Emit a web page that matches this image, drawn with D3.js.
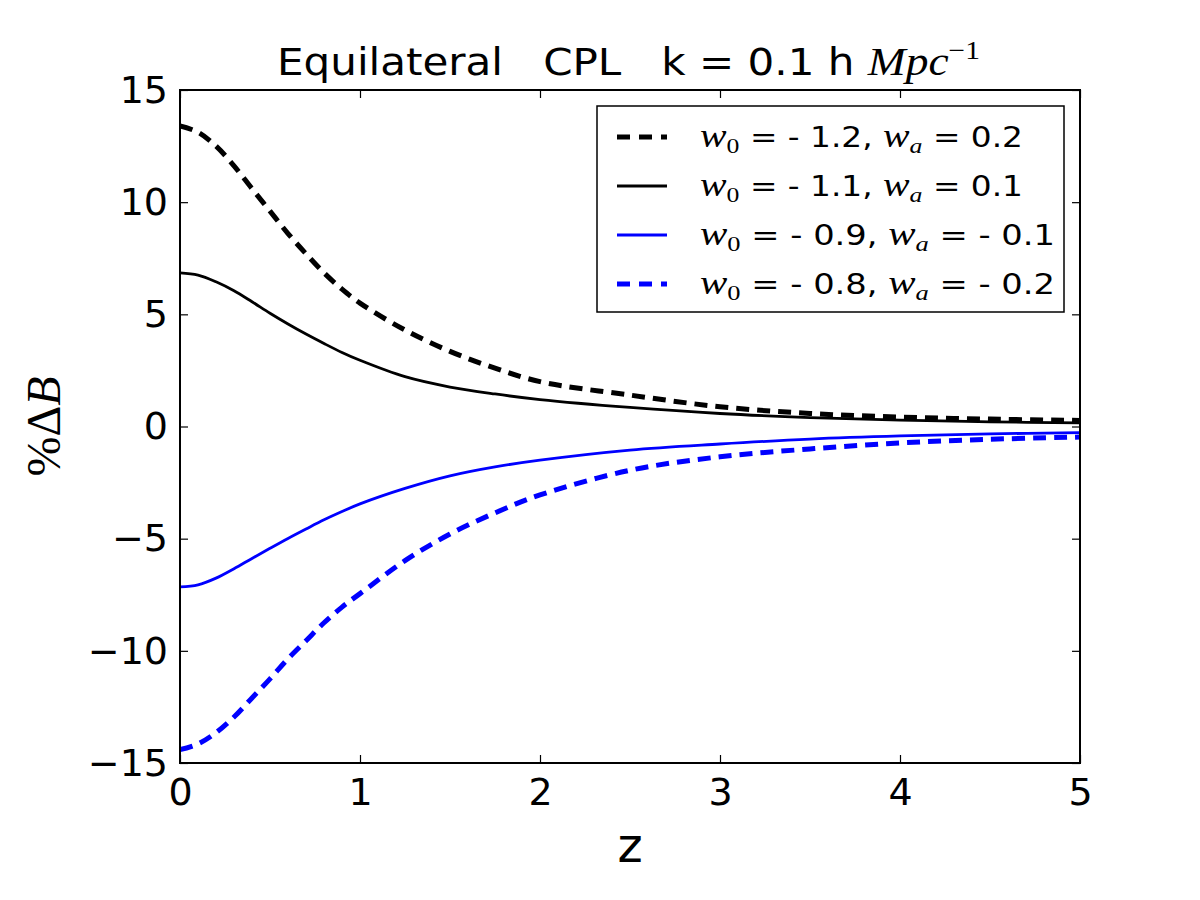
<!DOCTYPE html>
<html>
<head>
<meta charset="utf-8">
<script src="https://cdn.jsdelivr.net/npm/d3@7"></script>
<style>
  body { margin: 0; background: #fff; }
  text { font-family: "DejaVu Sans", sans-serif; white-space: pre; }
  .math { font-family: "Liberation Serif", "DejaVu Serif", serif; font-style: italic; }
</style>
</head>
<body>
<svg width="1200" height="900"></svg>
<script>
// redshift samples
var zVals = [0, 0.1, 0.2, 0.3, 0.4, 0.5, 0.6, 0.7, 0.8, 0.9, 1, 1.25, 1.5, 1.75, 2, 2.5, 3, 3.5, 4, 4.5, 5];

// percentage change in bispectrum
var w12 = [13.4, 13.12, 12.5, 11.62, 10.6, 9.6, 8.6, 7.7, 6.85, 6.12, 5.5, 4.3, 3.35, 2.6, 2.0, 1.4, 0.88, 0.58, 0.42, 0.33, 0.27];
var w11 = [6.85, 6.75, 6.45, 6.05, 5.56, 5.05, 4.57, 4.12, 3.7, 3.3, 2.95, 2.22, 1.76, 1.45, 1.2, 0.85, 0.58, 0.4, 0.28, 0.21, 0.16];
var w09 = [-7.15, -7.06, -6.76, -6.34, -5.88, -5.43, -4.99, -4.57, -4.16, -3.79, -3.45, -2.76, -2.2, -1.8, -1.5, -1.05, -0.78, -0.56, -0.42, -0.33, -0.27];
var w08 = [-14.4, -14.15, -13.65, -12.95, -12.1, -11.25, -10.35, -9.55, -8.75, -8.05, -7.45, -5.98, -4.79, -3.85, -3.05, -1.95, -1.35, -1.0, -0.73, -0.57, -0.47];

var seriesNames = [["- 1.2", "0.2"], ["- 1.1", "0.1"], ["- 0.9", "- 0.1"], ["- 0.8", "- 0.2"]];
var xTicks = [0, 1, 2, 3, 4, 5];
var yTicks = [-15, -10, -5, 0, 5, 10, 15];

var pL = 180, pR = 1080, pT = 90, pB = 763;

var svg = d3.select("svg");

var x = d3.scaleLinear().domain([0, 5]).range([pL, pR]);
var y = d3.scaleLinear().domain([-15, 15]).range([pB, pT]);

var series = [
    { vals: w12, color: "black", width: 5, dash: "13,8" },
    { vals: w11, color: "black", width: 2.8, dash: null },
    { vals: w09, color: "blue", width: 2.8, dash: null },
    { vals: w08, color: "blue", width: 5, dash: "13,8" }
];

svg.append("defs").append("clipPath").attr("id", "plotclip")
    .append("rect").attr("x", pL).attr("y", pT)
    .attr("width", pR - pL).attr("height", pB - pT);

var line = d3.line()
    .x(d => x(d[0]))
    .y(d => y(d[1]))
    .curve(d3.curveCatmullRom.alpha(0.5));

var plot = svg.append("g").attr("clip-path", "url(#plotclip)");
series.forEach(s => {
    plot.append("path")
        .datum(zVals.map((z, i) => [z, s.vals[i]]))
        .attr("d", line)
        .attr("fill", "none")
        .attr("stroke", s.color)
        .attr("stroke-width", s.width)
        .attr("stroke-dasharray", s.dash);
});

// axes with inward ticks on all sides
var tl = -8;
svg.append("g").attr("transform", "translate(0," + pB + ")")
    .call(d3.axisBottom(x).tickValues(xTicks).tickSize(tl).tickPadding(15).tickFormat(d3.format("d")))
    .call(g => g.select(".domain").remove());
svg.append("g").attr("transform", "translate(0," + pT + ")")
    .call(d3.axisTop(x).tickValues(xTicks).tickSize(tl).tickFormat(""))
    .call(g => g.select(".domain").remove());
svg.append("g").attr("transform", "translate(" + pL + ",0)")
    .call(d3.axisLeft(y).tickValues(yTicks).tickSize(tl).tickPadding(12)
        .tickFormat(d => d < 0 ? "\u2212" + Math.abs(d) : d))
    .call(g => g.select(".domain").remove());
svg.append("g").attr("transform", "translate(" + pR + ",0)")
    .call(d3.axisRight(y).tickValues(yTicks).tickSize(tl).tickFormat(""))
    .call(g => g.select(".domain").remove());

svg.selectAll(".tick line").attr("stroke", "black").attr("stroke-width", 1.2);
svg.selectAll(".tick text")
    .attr("font-family", "DejaVu Sans")
    .attr("font-size", 38)
    .attr("fill", "black");

svg.append("rect")
    .attr("x", pL).attr("y", pT)
    .attr("width", pR - pL).attr("height", pB - pT)
    .attr("fill", "none").attr("stroke", "black").attr("stroke-width", 2);

// title
var title = svg.append("text")
    .attr("x", 277).attr("y", 75)
    .attr("font-size", 37)
    .attr("textLength", 703)
    .attr("lengthAdjust", "spacingAndGlyphs");
title.append("tspan").text("Equilateral   CPL   k = 0.1 h ");
title.append("tspan").attr("class", "math").attr("font-size", 40).text("Mpc");
title.append("tspan").attr("class", "math").attr("font-size", 26).attr("dy", -16).style("font-style", "normal").text("\u22121");

// x label
svg.append("text")
    .attr("x", (pL + pR) / 2).attr("y", 862)
    .attr("text-anchor", "middle")
    .attr("font-size", 48)
    .text("z");

// y label
var ylab = svg.append("text")
    .attr("transform", "translate(60," + ((pT + pB) / 2) + ") rotate(-90)")
    .attr("text-anchor", "middle")
    .attr("font-family", "Liberation Serif")
    .attr("font-size", 48);
ylab.append("tspan").style("font-family", "Liberation Serif").text("%\u0394");
ylab.append("tspan").attr("class", "math").text("B");

// legend
var lg = svg.append("g");
lg.append("rect")
    .attr("x", 597).attr("y", 106)
    .attr("width", 467).attr("height", 206)
    .attr("fill", "white").attr("stroke", "black").attr("stroke-width", 1.5);

var legendWidths = [323, 323, 355, 355];
series.forEach((s, i) => {
    var ly = 137 + i * 49;
    lg.append("line")
        .attr("x1", 617).attr("x2", 667)
        .attr("y1", ly).attr("y2", ly)
        .attr("stroke", s.color)
        .attr("stroke-width", s.width)
        .attr("stroke-dasharray", s.dash ? "13,9" : null);
    var t = lg.append("text")
        .attr("x", 700).attr("y", ly + 10)
        .attr("font-size", 28)
        .attr("textLength", legendWidths[i])
        .attr("lengthAdjust", "spacingAndGlyphs");
    t.append("tspan").attr("class", "math").attr("font-size", 34).text("w");
    t.append("tspan").attr("class", "math").attr("font-size", 22).attr("dy", 6).style("font-style", "normal").text("0");
    t.append("tspan").attr("dy", -6).text(" = " + seriesNames[i][0] + ", ");
    t.append("tspan").attr("class", "math").attr("font-size", 34).text("w");
    t.append("tspan").attr("class", "math").attr("font-size", 22).attr("dy", 6).text("a");
    t.append("tspan").attr("dy", -6).text(" = " + seriesNames[i][1]);
});
</script>
</body>
</html>
